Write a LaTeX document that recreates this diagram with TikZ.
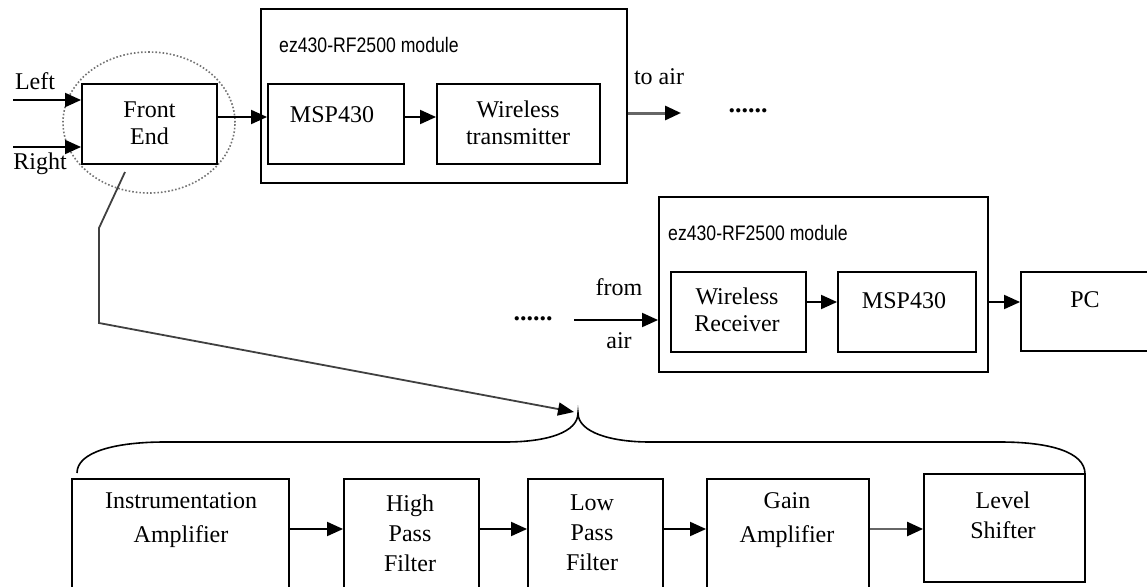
\documentclass[tikz,border=0pt]{standalone}
\usepackage{fontspec}
\setmainfont{Liberation Serif}
\newfontfamily\modfont[FakeStretch=0.84]{Liberation Sans}
\usetikzlibrary{arrows.meta,positioning,calc,shapes.geometric}
\tikzset{
  blk/.style={draw, line width=1.9pt, inner sep=0pt},
  txt/.style={align=center, inner sep=0pt, font=\fontsize{24}{27}\selectfont},
  modlbl/.style={anchor=west, inner sep=0pt, font=\modfont\fontsize{21}{23}\selectfont},
  dotsrow/.style={inner sep=0pt, font=\fontsize{26}{27}\selectfont\bfseries},
  arr/.style={-{Triangle[length=16pt,width=14pt]}, line width=1.9pt},
  airarr/.style={-{Triangle[length=16pt,width=14pt,color=black]}, draw=black!60, line width=3pt},
  pointer/.style={-{Triangle[length=16pt,width=13pt,color=black]}, draw=black!75, line width=1.8pt}
}

\begin{document}
\begin{tikzpicture}[x=1pt,y=-1pt]
  \useasboundingbox (0,0) rectangle (1147,586);
  \clip (0,0) rectangle (1147,586);

  % transmitter side
  \node[draw=black!55, dotted, line width=1.6pt, ellipse, minimum width=172pt, minimum height=141pt, inner sep=0pt] (focus) at (149,122.5) {};
  \node[blk, minimum width=135pt, minimum height=80pt] (fe) at (149.5,124) {};
  \node[txt] (fe-t) at (149.5,123) {Front\\End};
  \node[txt] (left) at (35,81) {Left};
  \node[txt] (right) at (40,164) {Right};
  \coordinate (in-l) at (13,100);
  \coordinate (in-r) at (13,147);
  \draw[arr] (in-l) -- (in-l -| fe.west);
  \draw[arr] (in-r) -- (in-r -| fe.west);

  \node[blk, minimum width=366pt, minimum height=174pt] (mod1) at (444,96) {};
  \node[modlbl] (mod1-t) at (279,45) {ez430-RF2500 module};
  \node[blk, minimum width=136pt, minimum height=80pt] (msp1) at (336,124) {};
  \node[txt] (msp1-t) at (332,115) {MSP430};
  \node[blk, minimum width=163pt, minimum height=80pt] (wtx) at (518.5,124) {};
  \node[txt] (wtx-t) at (518,123) {Wireless\\transmitter};
  \draw[arr] ([yshift=7pt]fe.east) -- ([yshift=7pt]fe.east -| msp1.west);
  \draw[arr] ([yshift=7pt]msp1.east) -- ([yshift=7pt]msp1.east -| wtx.west);

  \coordinate (air-out) at (681,113);
  \draw[airarr] (air-out -| mod1.east) -- (air-out);
  \node[txt] (toair) at (659,77) {to air};
  \node[dotsrow] (dots1) at (748,111) {......};

  % receiver side
  \node[blk, minimum width=329pt, minimum height=175pt] (mod2) at (823.5,284.5) {};
  \node[modlbl] (mod2-t) at (668,233) {ez430-RF2500 module};
  \node[blk, minimum width=135pt, minimum height=80pt] (wrx) at (738.5,312) {};
  \node[txt] (wrx-t) at (737,310) {Wireless\\Receiver};
  \node[blk, minimum width=138pt, minimum height=80pt] (msp2) at (907,312) {};
  \node[txt] (msp2-t) at (904,301) {MSP430};
  \node[blk, minimum width=149pt, minimum height=79pt] (pc) at (1095.5,311.5) {};
  \node[txt] (pc-t) at (1085,300) {PC};
  \node[dotsrow] (dots2) at (533,319) {......};
  \node[txt] (from) at (619,287) {from};
  \node[txt] (air) at (619,341) {air};
  \coordinate (air-in) at (574,320);
  \draw[arr] (air-in) -- (air-in -| mod2.west);
  \draw[arr] ([yshift=10pt]wrx.east) -- ([yshift=10pt]wrx.east -| msp2.west);
  \draw[arr] ([yshift=10pt]msp2.east -| mod2.east) -- ([yshift=10pt]msp2.east -| pc.west);

  % front end detail
  \node[blk, minimum width=217pt, minimum height=161pt] (ia) at (180.5,559.5) {};
  \node[txt] (ia-t) at (181,520) {Instrumentation\\[7pt]Amplifier};
  \node[blk, minimum width=135pt, minimum height=161pt] (hpf) at (411.5,559.5) {};
  \node[txt, font=\fontsize{24}{30}\selectfont] (hpf-t) at (410,533) {High\\Pass\\Filter};
  \node[blk, minimum width=135pt, minimum height=161pt] (lpf) at (595.5,559.5) {};
  \node[txt, font=\fontsize{24}{30}\selectfont] (lpf-t) at (592,533) {Low\\Pass\\Filter};
  \node[blk, minimum width=162pt, minimum height=161pt] (gain) at (788,559.5) {};
  \node[txt] (gain-t) at (787,520) {Gain\\[7pt]Amplifier};
  \node[blk, minimum width=161pt, minimum height=108pt] (ls) at (1004.5,528) {};
  \node[txt, font=\fontsize{24}{30}\selectfont] (ls-t) at (1003,515) {Level\\Shifter};
  \coordinate (chain) at (0,529);
  \draw[arr] (chain -| ia.east) -- (chain -| hpf.west);
  \draw[arr] (chain -| hpf.east) -- (chain -| lpf.west);
  \draw[arr] (chain -| lpf.east) -- (chain -| gain.west);
  \draw[airarr, line width=2.4pt] (chain -| gain.east) -- (chain -| ls.west);

  % brace over the chain
  \draw[line width=1.6pt] (77,473) .. controls (77,452) and (115,442) .. (165,442) -- (505,442)
    .. controls (548,442) and (578,432) .. (578,413)
    .. controls (578,432) and (610,442) .. (650,442) -- (1000,442)
    .. controls (1050,442) and (1085,452) .. (1085,474);

  % pointer from the front end
  \coordinate (fe-tail) at (125,172);
  \coordinate (brace-tip) at (574,412);
  \draw[pointer] (fe-tail) -- (99,228) -- (99,323) -- (brace-tip);
\end{tikzpicture}
\end{document}
